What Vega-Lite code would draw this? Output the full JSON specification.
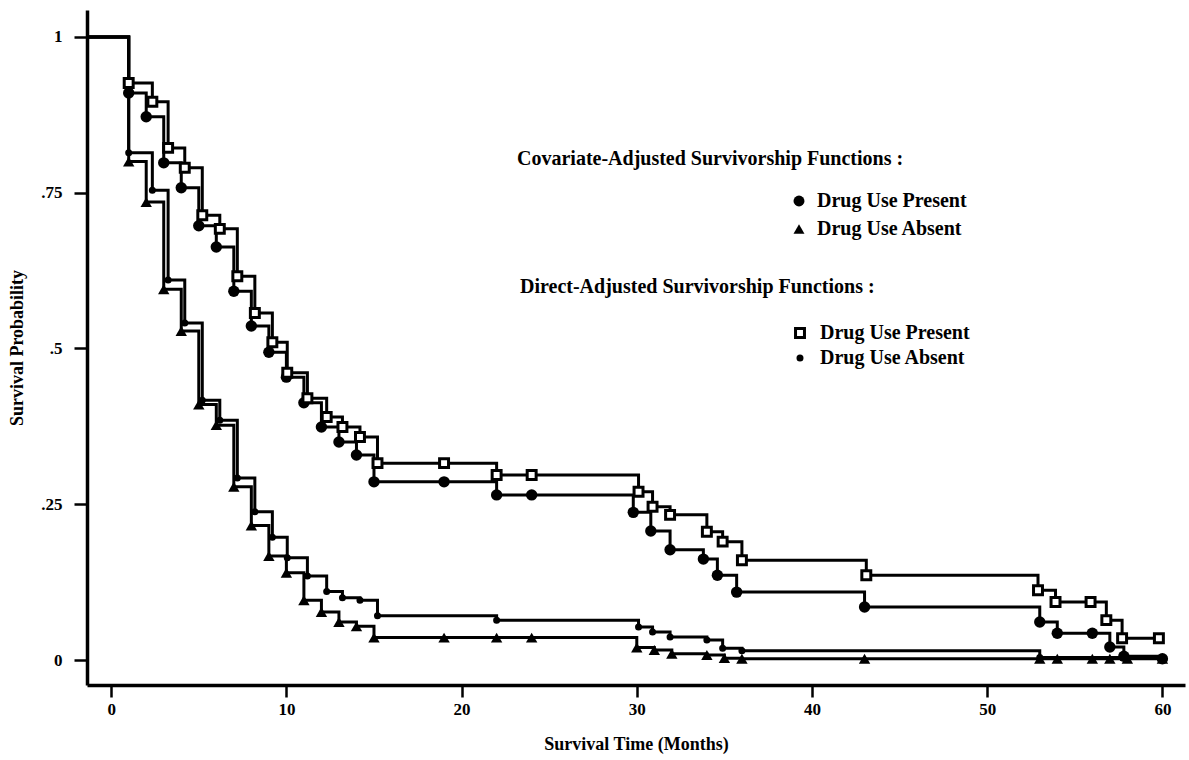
{
  "$schema": "https://vega.github.io/schema/vega-lite/v6.json",
  "width": 1098,
  "height": 675,
  "autosize": {"type": "none"},
  "padding": {"left": 87, "top": 10, "right": 4, "bottom": 75},
  "background": "white",
  "config": {
    "view": {"stroke": null},
    "axis": {
      "grid": false,
      "domainColor": "black",
      "domainWidth": 3.5,
      "tickColor": "black",
      "tickWidth": 2.5,
      "tickSize": 11,
      "labelFont": "Liberation Serif",
      "labelFontSize": 17,
      "labelFontWeight": "bold",
      "labelColor": "black",
      "titleFont": "Liberation Serif",
      "titleFontSize": 18,
      "titleFontWeight": "bold",
      "titleColor": "black"
    },
    "legend": {
      "padding": 0,
      "titleFont": "Liberation Serif",
      "titleFontSize": 20,
      "titleFontWeight": "bold",
      "titleColor": "black",
      "titleLimit": 600,
      "labelFont": "Liberation Serif",
      "labelFontSize": 20,
      "labelFontWeight": "bold",
      "labelColor": "black",
      "labelLimit": 400
    }
  },
  "data": {
    "values": [
      {"m": "Covariate", "g": "Drug Use Present", "t": -1.38, "s": 1},
      {"m": "Covariate", "g": "Drug Use Present", "t": 1, "s": 0.91},
      {"m": "Covariate", "g": "Drug Use Present", "t": 2, "s": 0.872},
      {"m": "Covariate", "g": "Drug Use Present", "t": 3, "s": 0.798},
      {"m": "Covariate", "g": "Drug Use Present", "t": 4, "s": 0.758},
      {"m": "Covariate", "g": "Drug Use Present", "t": 5, "s": 0.697},
      {"m": "Covariate", "g": "Drug Use Present", "t": 6, "s": 0.663},
      {"m": "Covariate", "g": "Drug Use Present", "t": 7, "s": 0.592},
      {"m": "Covariate", "g": "Drug Use Present", "t": 8, "s": 0.536},
      {"m": "Covariate", "g": "Drug Use Present", "t": 9, "s": 0.494},
      {"m": "Covariate", "g": "Drug Use Present", "t": 10, "s": 0.454},
      {"m": "Covariate", "g": "Drug Use Present", "t": 11, "s": 0.413},
      {"m": "Covariate", "g": "Drug Use Present", "t": 12, "s": 0.374},
      {"m": "Covariate", "g": "Drug Use Present", "t": 13, "s": 0.35},
      {"m": "Covariate", "g": "Drug Use Present", "t": 14, "s": 0.329},
      {"m": "Covariate", "g": "Drug Use Present", "t": 15, "s": 0.286},
      {"m": "Covariate", "g": "Drug Use Present", "t": 19, "s": 0.286},
      {"m": "Covariate", "g": "Drug Use Present", "t": 22, "s": 0.265},
      {"m": "Covariate", "g": "Drug Use Present", "t": 24, "s": 0.265},
      {"m": "Covariate", "g": "Drug Use Present", "t": 29.8, "s": 0.237},
      {"m": "Covariate", "g": "Drug Use Present", "t": 30.8, "s": 0.207},
      {"m": "Covariate", "g": "Drug Use Present", "t": 31.9, "s": 0.177},
      {"m": "Covariate", "g": "Drug Use Present", "t": 33.8, "s": 0.162},
      {"m": "Covariate", "g": "Drug Use Present", "t": 34.6, "s": 0.136},
      {"m": "Covariate", "g": "Drug Use Present", "t": 35.7, "s": 0.109},
      {"m": "Covariate", "g": "Drug Use Present", "t": 43, "s": 0.085},
      {"m": "Covariate", "g": "Drug Use Present", "t": 53, "s": 0.061},
      {"m": "Covariate", "g": "Drug Use Present", "t": 54, "s": 0.043},
      {"m": "Covariate", "g": "Drug Use Present", "t": 56, "s": 0.043},
      {"m": "Covariate", "g": "Drug Use Present", "t": 57, "s": 0.021},
      {"m": "Covariate", "g": "Drug Use Present", "t": 57.8, "s": 0.006},
      {"m": "Covariate", "g": "Drug Use Present", "t": 60, "s": 0.002},

      {"m": "Direct", "g": "Drug Use Present", "t": -1.38, "s": 1},
      {"m": "Direct", "g": "Drug Use Present", "t": 1, "s": 0.926},
      {"m": "Direct", "g": "Drug Use Present", "t": 2.35, "s": 0.896},
      {"m": "Direct", "g": "Drug Use Present", "t": 3.25, "s": 0.822},
      {"m": "Direct", "g": "Drug Use Present", "t": 4.2, "s": 0.79},
      {"m": "Direct", "g": "Drug Use Present", "t": 5.2, "s": 0.714},
      {"m": "Direct", "g": "Drug Use Present", "t": 6.2, "s": 0.692},
      {"m": "Direct", "g": "Drug Use Present", "t": 7.2, "s": 0.616},
      {"m": "Direct", "g": "Drug Use Present", "t": 8.2, "s": 0.557},
      {"m": "Direct", "g": "Drug Use Present", "t": 9.2, "s": 0.51},
      {"m": "Direct", "g": "Drug Use Present", "t": 10.05, "s": 0.461},
      {"m": "Direct", "g": "Drug Use Present", "t": 11.2, "s": 0.42},
      {"m": "Direct", "g": "Drug Use Present", "t": 12.3, "s": 0.39},
      {"m": "Direct", "g": "Drug Use Present", "t": 13.2, "s": 0.374},
      {"m": "Direct", "g": "Drug Use Present", "t": 14.2, "s": 0.358},
      {"m": "Direct", "g": "Drug Use Present", "t": 15.2, "s": 0.316},
      {"m": "Direct", "g": "Drug Use Present", "t": 19, "s": 0.316},
      {"m": "Direct", "g": "Drug Use Present", "t": 22, "s": 0.297},
      {"m": "Direct", "g": "Drug Use Present", "t": 24, "s": 0.297},
      {"m": "Direct", "g": "Drug Use Present", "t": 30.1, "s": 0.27},
      {"m": "Direct", "g": "Drug Use Present", "t": 30.9, "s": 0.246},
      {"m": "Direct", "g": "Drug Use Present", "t": 31.9, "s": 0.233},
      {"m": "Direct", "g": "Drug Use Present", "t": 34, "s": 0.206},
      {"m": "Direct", "g": "Drug Use Present", "t": 34.9, "s": 0.19},
      {"m": "Direct", "g": "Drug Use Present", "t": 36, "s": 0.16},
      {"m": "Direct", "g": "Drug Use Present", "t": 43.1, "s": 0.136},
      {"m": "Direct", "g": "Drug Use Present", "t": 52.9, "s": 0.112},
      {"m": "Direct", "g": "Drug Use Present", "t": 53.9, "s": 0.093},
      {"m": "Direct", "g": "Drug Use Present", "t": 55.9, "s": 0.093},
      {"m": "Direct", "g": "Drug Use Present", "t": 56.8, "s": 0.064},
      {"m": "Direct", "g": "Drug Use Present", "t": 57.7, "s": 0.035},
      {"m": "Direct", "g": "Drug Use Present", "t": 59.8, "s": 0.035},

      {"m": "Covariate", "g": "Drug Use Absent", "t": -1.38, "s": 1},
      {"m": "Covariate", "g": "Drug Use Absent", "t": 1, "s": 0.8},
      {"m": "Covariate", "g": "Drug Use Absent", "t": 2, "s": 0.735},
      {"m": "Covariate", "g": "Drug Use Absent", "t": 3, "s": 0.595},
      {"m": "Covariate", "g": "Drug Use Absent", "t": 4, "s": 0.528},
      {"m": "Covariate", "g": "Drug Use Absent", "t": 5, "s": 0.41},
      {"m": "Covariate", "g": "Drug Use Absent", "t": 6, "s": 0.377},
      {"m": "Covariate", "g": "Drug Use Absent", "t": 7, "s": 0.278},
      {"m": "Covariate", "g": "Drug Use Absent", "t": 8, "s": 0.216},
      {"m": "Covariate", "g": "Drug Use Absent", "t": 9, "s": 0.167},
      {"m": "Covariate", "g": "Drug Use Absent", "t": 10, "s": 0.14},
      {"m": "Covariate", "g": "Drug Use Absent", "t": 11, "s": 0.096},
      {"m": "Covariate", "g": "Drug Use Absent", "t": 12, "s": 0.077},
      {"m": "Covariate", "g": "Drug Use Absent", "t": 13, "s": 0.061},
      {"m": "Covariate", "g": "Drug Use Absent", "t": 14, "s": 0.054},
      {"m": "Covariate", "g": "Drug Use Absent", "t": 15, "s": 0.036},
      {"m": "Covariate", "g": "Drug Use Absent", "t": 19, "s": 0.036},
      {"m": "Covariate", "g": "Drug Use Absent", "t": 22, "s": 0.036},
      {"m": "Covariate", "g": "Drug Use Absent", "t": 24, "s": 0.036},
      {"m": "Covariate", "g": "Drug Use Absent", "t": 30, "s": 0.02},
      {"m": "Covariate", "g": "Drug Use Absent", "t": 31, "s": 0.016},
      {"m": "Covariate", "g": "Drug Use Absent", "t": 32, "s": 0.01},
      {"m": "Covariate", "g": "Drug Use Absent", "t": 34, "s": 0.008},
      {"m": "Covariate", "g": "Drug Use Absent", "t": 35, "s": 0.003},
      {"m": "Covariate", "g": "Drug Use Absent", "t": 36, "s": 0.002},
      {"m": "Covariate", "g": "Drug Use Absent", "t": 43, "s": 0.002},
      {"m": "Covariate", "g": "Drug Use Absent", "t": 53, "s": 0.002},
      {"m": "Covariate", "g": "Drug Use Absent", "t": 54, "s": 0.002},
      {"m": "Covariate", "g": "Drug Use Absent", "t": 56, "s": 0.002},
      {"m": "Covariate", "g": "Drug Use Absent", "t": 57, "s": 0.002},
      {"m": "Covariate", "g": "Drug Use Absent", "t": 58, "s": 0.002},
      {"m": "Covariate", "g": "Drug Use Absent", "t": 60, "s": 0.002},

      {"m": "Direct", "g": "Drug Use Absent", "t": -1.38, "s": 1},
      {"m": "Direct", "g": "Drug Use Absent", "t": 1, "s": 0.814},
      {"m": "Direct", "g": "Drug Use Absent", "t": 2.35, "s": 0.754},
      {"m": "Direct", "g": "Drug Use Absent", "t": 3.25, "s": 0.61},
      {"m": "Direct", "g": "Drug Use Absent", "t": 4.2, "s": 0.541},
      {"m": "Direct", "g": "Drug Use Absent", "t": 5.2, "s": 0.417},
      {"m": "Direct", "g": "Drug Use Absent", "t": 6.2, "s": 0.385},
      {"m": "Direct", "g": "Drug Use Absent", "t": 7.2, "s": 0.292},
      {"m": "Direct", "g": "Drug Use Absent", "t": 8.2, "s": 0.238},
      {"m": "Direct", "g": "Drug Use Absent", "t": 9.2, "s": 0.197},
      {"m": "Direct", "g": "Drug Use Absent", "t": 10.05, "s": 0.164},
      {"m": "Direct", "g": "Drug Use Absent", "t": 11.2, "s": 0.135},
      {"m": "Direct", "g": "Drug Use Absent", "t": 12.3, "s": 0.11},
      {"m": "Direct", "g": "Drug Use Absent", "t": 13.2, "s": 0.1},
      {"m": "Direct", "g": "Drug Use Absent", "t": 14.2, "s": 0.096},
      {"m": "Direct", "g": "Drug Use Absent", "t": 15.2, "s": 0.071},
      {"m": "Direct", "g": "Drug Use Absent", "t": 22, "s": 0.064},
      {"m": "Direct", "g": "Drug Use Absent", "t": 30.1, "s": 0.053},
      {"m": "Direct", "g": "Drug Use Absent", "t": 30.9, "s": 0.045},
      {"m": "Direct", "g": "Drug Use Absent", "t": 31.9, "s": 0.037},
      {"m": "Direct", "g": "Drug Use Absent", "t": 34, "s": 0.032},
      {"m": "Direct", "g": "Drug Use Absent", "t": 34.9, "s": 0.019},
      {"m": "Direct", "g": "Drug Use Absent", "t": 36, "s": 0.015},
      {"m": "Direct", "g": "Drug Use Absent", "t": 53, "s": 0.004},
      {"m": "Direct", "g": "Drug Use Absent", "t": 60, "s": 0.004}
    ]
  },
  "encoding": {
    "x": {
      "field": "t",
      "type": "quantitative",
      "scale": {"domain": [-1.38, 61.29], "nice": false, "zero": false},
      "axis": {
        "values": [0, 10, 20, 30, 40, 50, 60],
        "title": "Survival Time (Months)",
        "tickSize": 12,
        "labelPadding": 4,
        "titlePadding": 18
      }
    },
    "y": {
      "field": "s",
      "type": "quantitative",
      "scale": {"domain": [-0.0401, 1.0433], "nice": false, "zero": false},
      "axis": {
        "values": [0, 0.25, 0.5, 0.75, 1],
        "labelExpr": "datum.value == 0 ? '0' : datum.value == 1 ? '1' : '.' + substring(format(datum.value, '.2~f'), 2)",
        "title": "Survival Probability",
        "tickSize": 13,
        "labelPadding": 12,
        "titlePadding": 14
      }
    }
  },
  "layer": [
    {
      "mark": {"type": "line", "interpolate": "step-after", "stroke": "black", "strokeWidth": 3},
      "encoding": {"detail": [{"field": "m"}, {"field": "g"}]}
    },
    {
      "transform": [{"filter": "datum.m == 'Covariate' && datum.t > 0"}],
      "mark": {"type": "point", "filled": true, "color": "black", "opacity": 1, "size": 130},
      "encoding": {
        "shape": {
          "field": "g",
          "type": "nominal",
          "scale": {"domain": ["Drug Use Present", "Drug Use Absent"], "range": ["circle", "triangle-up"]},
          "legend": {
            "title": "Covariate-Adjusted Survivorship Functions :",
            "orient": "none",
            "legendX": 430,
            "legendY": 139,
            "symbolOffset": 272,
            "labelOffset": 8,
            "rowPadding": 8,
            "titlePadding": 22,
            "symbolSize": 120,
            "symbolFillColor": "black",
            "symbolStrokeColor": "black"
          }
        }
      }
    },
    {
      "transform": [{"filter": "datum.m == 'Direct' && datum.t > 0"}],
      "mark": {"type": "point", "filled": true, "strokeWidth": 3, "opacity": 1, "size": 80},
      "encoding": {
        "shape": {
          "field": "g",
          "type": "nominal",
          "scale": {"domain": ["Drug Use Present", "Drug Use Absent"], "range": ["square", "M-0.45,0A0.45,0.45 0 1,0 0.45,0A0.45,0.45 0 1,0 -0.45,0Z"]},
          "legend": {
            "title": "Direct-Adjusted Survivorship Functions :",
            "orient": "none",
            "legendX": 433,
            "legendY": 267,
            "symbolOffset": 270,
            "labelOffset": 10,
            "rowPadding": 4,
            "titlePadding": 26,
            "symbolSize": 80,
            "symbolStrokeWidth": 3
          }
        },
        "fill": {
          "field": "g",
          "type": "nominal",
          "scale": {"domain": ["Drug Use Present", "Drug Use Absent"], "range": ["white", "black"]},
          "legend": {
            "title": "Direct-Adjusted Survivorship Functions :",
            "orient": "none",
            "legendX": 433,
            "legendY": 267,
            "symbolOffset": 270,
            "labelOffset": 10,
            "rowPadding": 4,
            "titlePadding": 26,
            "symbolSize": 80,
            "symbolStrokeWidth": 3
          }
        },
        "stroke": {
          "field": "g",
          "type": "nominal",
          "scale": {"domain": ["Drug Use Present", "Drug Use Absent"], "range": ["black", "black"]},
          "legend": {
            "title": "Direct-Adjusted Survivorship Functions :",
            "orient": "none",
            "legendX": 433,
            "legendY": 267,
            "symbolOffset": 270,
            "labelOffset": 10,
            "rowPadding": 4,
            "titlePadding": 26,
            "symbolSize": 80,
            "symbolStrokeWidth": 3
          }
        }
      }
    }
  ],
  "resolve": {"scale": {"shape": "independent", "fill": "independent", "stroke": "independent"}}
}
